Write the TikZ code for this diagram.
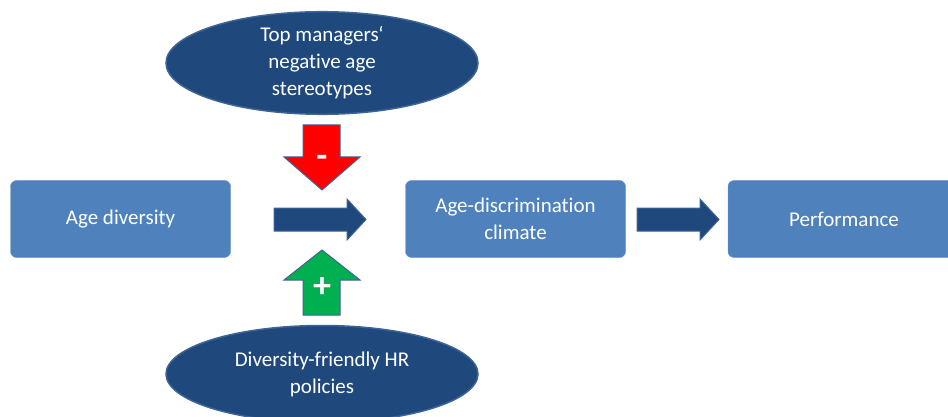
\documentclass[tikz,border=0pt]{standalone}
\usepackage{fontspec}
\setmainfont[Ligatures=NoCommon]{Carlito}
\usetikzlibrary{shapes.geometric}

\definecolor{boxblue}{HTML}{4F81BD}
\definecolor{darkblue}{HTML}{1F497D}
\definecolor{edgeblue}{HTML}{3F6497}
\definecolor{minusred}{HTML}{FF0000}
\definecolor{plusgreen}{HTML}{00B050}

\begin{document}
\begin{tikzpicture}
	[x=1pt,y=-1pt,
	every node/.style={text=white,font=\fontsize{21}{27}\selectfont,align=center},
	varbox/.style={rectangle,rounded corners=6pt,fill=boxblue,draw=boxblue!85!white,minimum width=220pt,minimum height=77pt,inner sep=0pt},
	moderator/.style={ellipse,fill=darkblue,draw=edgeblue,line width=1.5pt,minimum width=312pt,minimum height=97pt,inner sep=0pt},
	blockarrow/.style={fill=darkblue,draw=edgeblue,line width=1pt,line join=miter},
	sign/.style={font=\fontsize{36}{36}\bfseries\selectfont,inner sep=0pt}]
	\useasboundingbox (0,0) rectangle (948,417);
	\clip (0,0) rectangle (948,417);

	% variables
	\node[varbox] (div) at (120.5,219) {Age diversity};
	\node[varbox] (clim) at (515.5,219) {Age-discrimination\\climate};
	\node[varbox,minimum width=232pt] (perf) at (844,219) {Performance};

	% moderators
	\node[moderator] (stereo) at (322,63) {Top managers‘\\negative age\\stereotypes};
	\node[moderator] (hr) at (322,374) {Diversity-friendly HR\\policies};

	% block arrows
	\draw[blockarrow] (274,208) -- (347,208) -- (347,199) -- (366,219.5) -- (347,240) -- (347,231) -- (274,231) -- cycle;
	\draw[blockarrow] (637,208) -- (700,208) -- (700,199) -- (719,219.5) -- (700,240) -- (700,231) -- (637,231) -- cycle;
	\draw[blockarrow,fill=minusred] (303,125) -- (340,125) -- (340,157) -- (360,157) -- (322,190) -- (284,157) -- (303,157) -- cycle;
	\draw[blockarrow,fill=plusgreen] (303,315) -- (340,315) -- (340,280) -- (360,280) -- (322,250) -- (284,280) -- (303,280) -- cycle;

	\node[sign] (minus) at (322,161) {-};
	\node[sign] (plus) at (322,288) {+};
\end{tikzpicture}
\end{document}
